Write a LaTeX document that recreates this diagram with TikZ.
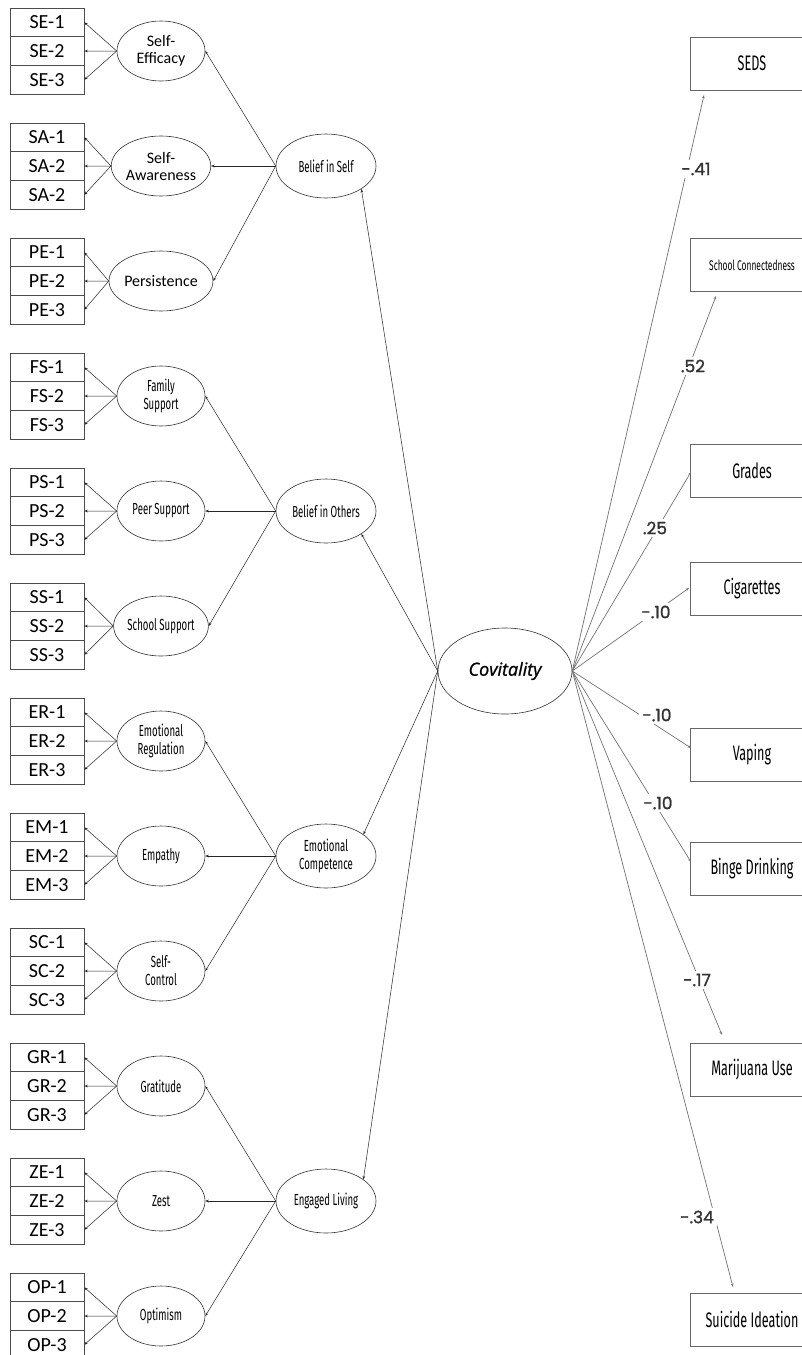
\documentclass[tikz,border=0pt]{standalone}
\usepackage{fontspec}
\setmainfont{Carlito}
\newfontfamily\cond[FakeStretch=0.6]{Fira Sans}
\newfontfamily\numf[FakeBold=1.2]{Poppins}
\newfontfamily\covf[FakeBold=1]{Open Sans}
\usetikzlibrary{arrows.meta,shapes.geometric}
\def\fa{\fontsize{16}{17}\selectfont}
\def\fb{\cond\fontsize{16}{18}\selectfont}
\begin{document}
\begin{tikzpicture}[x=1pt,y=-1pt,
  ind/.style={draw=black!70, line width=0.7pt, minimum width=74pt, minimum height=28.7pt, inner sep=0pt, font=\fontsize{20}{20}\selectfont},
  fac/.style={ellipse, draw=black!80, line width=0.6pt, minimum width=88pt, minimum height=60pt, inner sep=0pt, align=center},
  sec/.style={ellipse, draw=black!80, line width=0.6pt, minimum width=100pt, minimum height=64pt, inner sep=0pt, align=center, font=\fb},
  cov/.style={ellipse, draw=black!80, line width=0.6pt, minimum width=134pt, minimum height=86pt, inner sep=0pt, font=\covf\itshape\fontsize{18}{18}\selectfont},
  outb/.style={draw=black!60, line width=0.7pt, minimum width=124pt, minimum height=53pt, inner sep=0pt, font=\cond\fontsize{21}{21}\selectfont},
  ar/.style={-{Stealth[length=3.5pt,width=2.6pt]}, line width=0.5pt, draw=black!85},
  arg/.style={-{Stealth[length=3.5pt,width=2.6pt]}, line width=0.7pt, draw=black!55},
  coef/.style={fill=white, inner sep=3pt, text=black!80, font=\numf\fontsize{17}{17}\selectfont}
]
\useasboundingbox[fill=white] (0,0) rectangle (802,1355);

% first-order factors and indicators
\foreach \k/\a/\b/\c/\lab/\fnt in {
  0/SE-1/SE-2/SE-3/{Self-\\Efficacy}/\fa,
  1/SA-1/SA-2/SA-2/{Self-\\Awareness}/\fa,
  2/PE-1/PE-2/PE-3/{Persistence}/\fa,
  3/FS-1/FS-2/FS-3/{Family\\Support}/\fb,
  4/PS-1/PS-2/PS-3/{Peer Support}/\fb,
  5/SS-1/SS-2/SS-3/{School Support}/\fb,
  6/ER-1/ER-2/ER-3/{Emotional\\Regulation}/\fb,
  7/EM-1/EM-2/EM-3/{Empathy}/\fb,
  8/SC-1/SC-2/SC-3/{Self-\\Control}/\fb,
  9/GR-1/GR-2/GR-3/{Gratitude}/\fb,
  10/ZE-1/ZE-2/ZE-3/{Zest}/\fb,
  11/OP-1/OP-2/OP-3/{Optimism}/\fb}
{
  \pgfmathsetmacro\t{8+115*\k}
  \node[ind] (b\k-1) at (47,\t+14.35) {\a};
  \node[ind] (b\k-2) at (47,\t+43.05) {\b};
  \node[ind] (b\k-3) at (47,\t+71.75) {\c};
  \node[fac, font=\fnt] (f\k) at (161,\t+43) {\lab};
  \foreach \i in {1,2,3} \draw[ar] (f\k.west) -- (b\k-\i.east);
}

% second-order factors
\foreach \j/\lab in {0/{Belief in Self},1/{Belief in Others},2/{Emotional\\Competence},3/{Engaged Living}}
{
  \node[sec] (s\j) at (326,166+345*\j) {\lab};
  \foreach \i in {0,1,2} {
    \pgfmathtruncatemacro\m{3*\j+\i}
    \draw[ar] (s\j.west) -- (f\m.east);
  }
}

% Covitality
\node[cov] (cv) at (505,671) {Covitality};
\draw[ar] (cv.west) -- (s0.-33);
\draw[ar] (cv.west) -- (s1.-33);
\draw[ar] (cv.west) -- (s2.30);
\draw[ar] (cv.west) -- (s3.30);

% outcomes
\node[outb] (o1) at (752,63.5) {SEDS};
\node[outb, font=\cond\fontsize{14}{14}\selectfont] (o2) at (752,265) {School Connectedness};
\node[outb] (o3) at (752,471) {Grades};
\node[outb] (o4) at (752,588.5) {Cigarettes};
\node[outb] (o5) at (752,755) {Vaping};
\node[outb] (o6) at (752,869) {Binge Drinking};
\node[outb] (o7) at (752,1069.5) {Marijuana Use};
\node[outb] (o8) at (752,1319.5) {Suicide Ideation};

\coordinate (t1) at (704,95);
\coordinate (t2) at (716,296);
\coordinate (t3) at (691,472);
\coordinate (t4) at (689,588);
\coordinate (t5) at (691,748);
\coordinate (t6) at (691,862);
\coordinate (t7) at (722,1035);
\coordinate (t8) at (733,1287);
\foreach \n in {1,...,8} \draw[arg] (cv.east) -- (t\n);

\node[coef] (c1) at (696,169) {-.41};
\node[coef] (c2) at (693,366) {.52};
\node[coef] (c3) at (655,528) {.25};
\node[coef] (c4) at (656,612) {-.10};
\node[coef] (c5) at (657,715) {-.10};
\node[coef] (c6) at (658,803) {-.10};
\node[coef] (c7) at (697,980) {-.17};
\node[coef] (c8) at (697,1217) {-.34};
\end{tikzpicture}
\end{document}
